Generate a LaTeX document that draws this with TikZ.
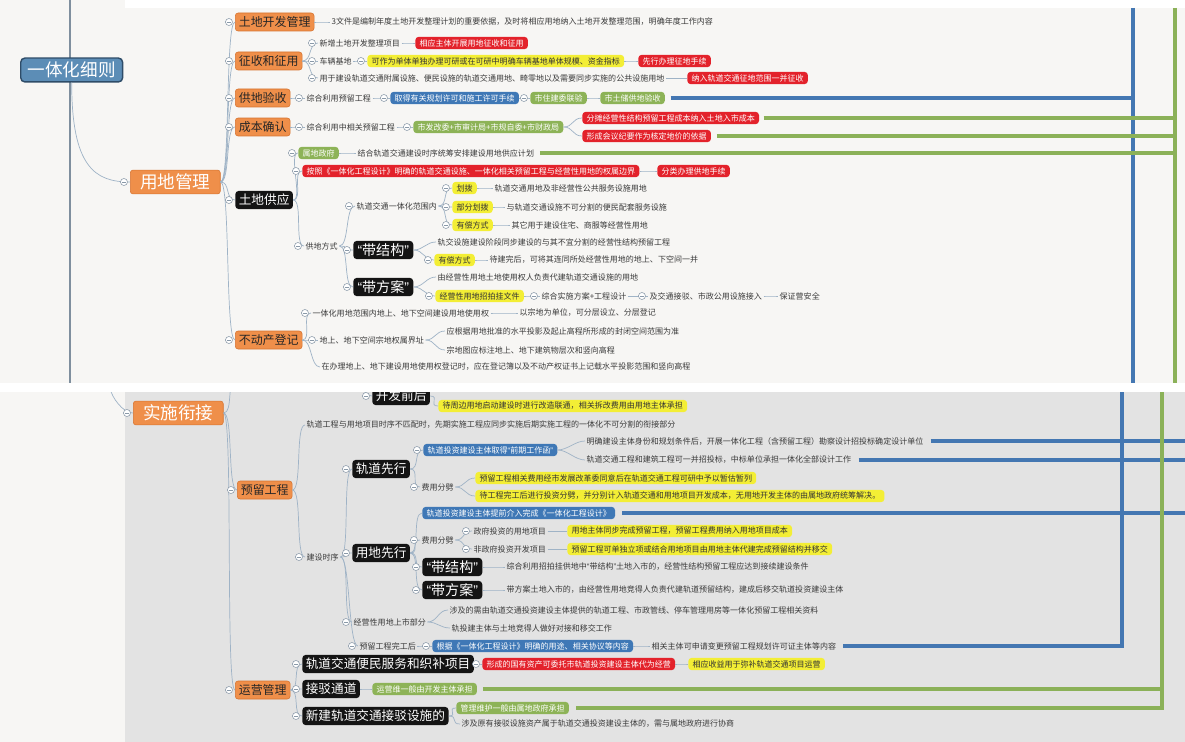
\documentclass[tikz,border=0pt]{standalone}
\usepackage{fontspec}
\setmainfont{Noto Sans CJK SC}
\newfontfamily\qfont{Liberation Sans}
\usetikzlibrary{calc}

\definecolor{panel}{HTML}{F7F6F4}
\definecolor{panelgray}{HTML}{E3E3E3}
\definecolor{topicorange}{HTML}{EF8F4A}
\definecolor{topicedge}{HTML}{D7732F}
\definecolor{rootblue}{HTML}{5C8DB6}
\definecolor{rootedge}{HTML}{2E4C68}
\definecolor{tagred}{HTML}{E3222B}
\definecolor{tagblue}{HTML}{3F78B6}
\definecolor{taggreen}{HTML}{8DB357}
\definecolor{tagyellow}{HTML}{F3EE35}
\definecolor{linkgray}{HTML}{9FB3C6}
\definecolor{foldgray}{HTML}{8A99A8}
\definecolor{relblue}{HTML}{4477B2}
\definecolor{relgreen}{HTML}{8BB158}
\definecolor{textgray}{HTML}{3A3A3A}

\newcommand{\openq}{{\qfont “}}
\newcommand{\closeq}{{\qfont ”}}
\newcommand{\foldmark}[1]{%
  \draw[draw=foldgray, fill=white, line width=0.4pt] ([xshift=-4.3pt]#1.west) circle[radius=2.5pt];
  \draw[draw=foldgray, line width=0.4pt] ([xshift=-5.6pt]#1.west) -- ([xshift=-3pt]#1.west);}

\begin{document}
\begin{tikzpicture}[x=0.025cm, y=-0.025cm,
  every node/.style={anchor=west, font=\fontsize{5.7pt}{6.5pt}\selectfont, text=textgray, inner xsep=1pt, inner ysep=0.8pt},
  rootbox/.style={fill=rootblue, draw=rootedge, line width=1pt, rounded corners=3pt, text=white, font=\fontsize{12.5pt}{14pt}\selectfont, inner xsep=5pt, minimum height=17pt},
  bigtopic/.style={fill=topicorange, draw=topicedge, line width=0.4pt, rounded corners=2pt, text=white, font=\fontsize{12.5pt}{14pt}\selectfont, inner xsep=7pt, minimum height=17pt},
  topic/.style={fill=topicorange, draw=topicedge, line width=0.4pt, rounded corners=2pt, text=black!85, font=\fontsize{8.5pt}{10pt}\selectfont, inner xsep=2.5pt, minimum height=12.8pt},
  blackbox/.style={fill=black!92, rounded corners=2.5pt, text=white, font=\fontsize{9pt}{10pt}\selectfont, inner xsep=2.5pt, minimum height=13pt},
  quotebox/.style={blackbox, font=\fontsize{10pt}{11pt}\selectfont, inner xsep=3pt},
  redtag/.style={fill=tagred, rounded corners=2.5pt, text=white, inner xsep=3pt, minimum height=8.8pt},
  bluetag/.style={redtag, fill=tagblue},
  greentag/.style={redtag, fill=taggreen},
  hl/.style={redtag, fill=tagyellow, text=black!80},
  link/.style={draw=linkgray, line width=0.5pt, out=0, in=180, distance=7pt},
  relb/.style={draw=relblue, line width=2.4pt},
  relg/.style={draw=relgreen, line width=2.4pt}]

  \useasboundingbox (0,0) rectangle (1185,742);

  % backgrounds
  \fill[panel] (0,0) rectangle (1185,383);
  \fill[white] (125,0) rectangle (1185,8);
  \fill[white] (0,383) rectangle (1185,392);
  \fill[panel] (0,392) rectangle (125,742);
  \fill[panelgray] (125,392) rectangle (1185,742);

  % root
  \coordinate (roottop) at (70,0);
  \coordinate (rootbot) at (70,383);
  \draw[draw=linkgray!80!black, line width=0.9pt] (roottop) -- (rootbot);
  \node[rootbox] (root) at (20,70) {一体化细则};

  \node[bigtopic] (land) at (130,182) {用地管理};
  \draw[link, out=-90, out distance=60pt, in distance=25pt] (root.south) to (land.west);

  \node[topic] (landdev) at (235,22) {土地开发管理};
  \node[topic] (levy) at (235,61) {征收和征用};
  \node[topic] (accept) at (235,98) {供地验收};
  \node[topic] (cost) at (235,127) {成本确认};
  \node[blackbox] (supply) at (235,200) {土地供应};
  \node[topic] (estate) at (235,340) {不动产登记};
  \path[link] (land.east) edge (landdev.west) edge (levy.west) edge (accept.west)
    edge (cost.west) edge (supply.west) edge (estate.west);

  % land development
  \node (devnote) at (330,22) {3文件是编制年度土地开发整理计划的重要依据，及时将相应用地纳入土地开发整理范围，明确年度工作内容};
  \path[link] (landdev.east) edge (devnote.west);

  % levy
  \node (newdev) at (318,43) {新增土地开发整理项目};
  \node[redtag] (levyact) at (415,43) {相应主体开展用地征收和征用};
  \node (depot) at (318,61) {车辆基地};
  \node[hl] (depotplan) at (367,61) {可作为单体单独办理可研或在可研中明确车辆基地单体规模、资金指标};
  \node[redtag] (depotlevy) at (638,61) {先行办理征地手续};
  \node (auxland) at (318,78) {用于建设轨道交通附属设施、便民设施的轨道交通用地、畸零地以及需要同步实施的公共设施用地};
  \node[redtag] (auxlevy) at (687,78) {纳入轨道交通征地范围一并征收};
  \path[link] (levy.east) edge (newdev.west) edge (depot.west) edge (auxland.west);
  \path[link] (newdev.east) edge (levyact.west);
  \path[link] (depot.east) edge (depotplan.west);
  \path[link] (depotplan.east) edge (depotlevy.west);
  \path[link] (auxland.east) edge (auxlevy.west);

  % acceptance
  \node (reserve) at (305,98) {综合利用预留工程};
  \node[bluetag] (permit) at (390,98) {取得有关规划许可和施工许可手续};
  \node[greentag] (jointcheck) at (530,98) {市住建委联验};
  \node[greentag] (storecheck) at (600,98) {市土储供地验收};
  \path[link] (accept.east) edge (reserve.west);
  \path[link] (reserve.east) edge (permit.west);
  \path[link] (permit.east) edge (jointcheck.west);
  \path[link] (jointcheck.east) edge (storecheck.west);

  % cost
  \node (relres) at (305,127) {综合利用中相关预留工程};
  \node[greentag] (depts) at (413,127) {市发改委+市审计局+市规自委+市财政局};
  \node[redtag] (sharecost) at (582,118) {分摊经营性结构预留工程成本纳入土地入市成本};
  \node[redtag] (minutes) at (582,136) {形成会议纪要作为核定地价的依据};
  \path[link] (cost.east) edge (relres.west);
  \path[link] (relres.east) edge (depts.west);
  \path[link] (depts.east) edge (sharecost.west) edge (minutes.west);

  % supply
  \node[greentag] (localgov) at (298,153) {属地政府};
  \node (plan) at (356,153) {结合轨道交通建设时序统筹安排建设用地供应计划};
  \node[redtag] (bound) at (302,171) {按照《一体化工程设计》明确的轨道交通设施、一体化相关预留工程与经营性用地的权属边界};
  \node[redtag] (classify) at (657,171) {分类办理供地手续};
  \node (mode) at (304,246) {供地方式};
  \node (inrange) at (355,206) {轨道交通一体化范围内};
  \node[hl] (alloc) at (452,188) {划拨};
  \node (allocnote) at (493,188) {轨道交通用地及非经营性公共服务设施用地};
  \node[hl] (partalloc) at (452,207) {部分划拨};
  \node (partnote) at (505,207) {与轨道交通设施不可分割的便民配套服务设施};
  \node[hl] (paid) at (452,225) {有偿方式};
  \node (paidnote) at (510,225) {其它用于建设住宅、商服等经营性用地};
  \node[quotebox] (withstruct) at (353,250) {\openq 带结构\closeq};
  \node (structnote) at (436,242) {轨交设施建设阶段同步建设的与其不宜分割的经营性结构预留工程};
  \node[hl] (structpaid) at (434,260) {有偿方式};
  \node (structpaidnote) at (488,260) {待建完后，可将其连同所处经营性用地的地上、下空间一并};
  \node[quotebox] (withplan) at (353,287) {\openq 带方案\closeq};
  \node (plannote) at (436,277) {由经营性用地土地使用权人负责代建轨道交通设施的用地};
  \node[hl] (bidfile) at (435,296) {经营性用地招拍挂文件};
  \node (scheme) at (540,296) {综合实施方案+工程设计};
  \node (access) at (648,296) {及交通接驳、市政公用设施接入};
  \node (safe) at (778,296) {保证营安全};
  \path[link] (supply.east) edge (localgov.west) edge (bound.west) edge (mode.west);
  \path[link] (localgov.east) edge (plan.west);
  \path[link] (bound.east) edge (classify.west);
  \path[link] (mode.east) edge (inrange.west) edge (withstruct.west) edge (withplan.west);
  \path[link] (inrange.east) edge (alloc.west) edge (partalloc.west) edge (paid.west);
  \path[link] (alloc.east) edge (allocnote.west);
  \path[link] (partalloc.east) edge (partnote.west);
  \path[link] (paid.east) edge (paidnote.west);
  \path[link] (withstruct.east) edge (structnote.west) edge (structpaid.west);
  \path[link] (structpaid.east) edge (structpaidnote.west);
  \path[link] (withplan.east) edge (plannote.west) edge (bidfile.west);
  \path[link] (bidfile.east) edge (scheme.west);
  \path[link] (scheme.east) edge (access.west);
  \path[link] (access.east) edge (safe.west);

  % estate registration
  \node (layer) at (311,313) {一体化用地范围内地上、地下空间建设用地使用权};
  \node (layernote) at (518,313) {以宗地为单位，可分层设立、分层登记};
  \node (bounds) at (318,340) {地上、地下空间宗地权属界址};
  \node (boundsa) at (445,331) {应根据用地批准的水平投影及起止高程所形成的封闭空间范围为准};
  \node (boundsb) at (445,350) {宗地图应标注地上、地下建筑物层次和竖向高程};
  \node (record) at (320,367) {在办理地上、地下建设用地使用权登记时，应在登记簿以及不动产权证书上记载水平投影范围和竖向高程};
  \path[link] (estate.east) edge (layer.west) edge (bounds.west) edge (record.west);
  \path[link] (layer.east) edge (layernote.west);
  \path[link] (bounds.east) edge (boundsa.west) edge (boundsb.west);

  % relationship lines, top
  \coordinate (bluetop) at (1133,8);
  \coordinate (bluebot) at (1133,383);
  \coordinate (bluehit) at (1133,98);
  \coordinate (greentop) at (1175,8);
  \coordinate (greenbot) at (1175,383);
  \draw[relb] (bluetop) -- (bluebot);
  \draw[relb] ([xshift=4pt]storecheck.east) -- (bluehit);
  \draw[relg] ([xshift=3pt]sharecost.east) -- (sharecost.east -| greentop);
  \draw[relg] ([xshift=4pt]minutes.east) -- (minutes.east -| greentop);
  \draw[relg] ([xshift=3pt]plan.east) -- (plan.east -| greentop);
  \draw[relg] (greentop) -- (greenbot);

  \foreach \n in {land, landdev, levy, accept, cost, supply, estate, newdev, depot, depotplan, auxland,
    reserve, permit, jointcheck, relres, depts, localgov, bound, mode, inrange, alloc, partalloc, paid,
    withstruct, withplan, structpaid, bidfile, scheme, access, layer, bounds}
    {\foldmark{\n}}

  % implementation panel
  \begin{scope}
    \clip (0,392) rectangle (1185,742);
    \coordinate (rootcurve) at (110,388);
    \coordinate (abovetopic) at (236,380);
    \coordinate (abovedev) at (350,378);

    \node[bigtopic] (connect) at (133,413) {实施衔接};
    \draw[link, out=-80] (rootcurve) to (connect.west);

    \node[blackbox] (devafter) at (372,396) {开发前后};
    \node[hl] (rebuild) at (438,406) {待周边用地启动建设时进行改造联通，相关拆改费用由用地主体承担};
    \node[topic] (reserved) at (237,490) {预留工程};
    \node[topic] (operate) at (235,690) {运营管理};
    \path[link] (connect.east) edge (abovetopic) edge (reserved.west) edge (operate.west);
    \path[link] (abovedev) edge (devafter.west);
    \path[link] (devafter.east) edge (rebuild.west);

    % reserved works
    \node (mismatch) at (305,425) {轨道工程与用地项目时序不匹配时，先期实施工程应同步实施后期实施工程的一体化不可分割的衔接部分};
    \node (order) at (305,557) {建设时序};
    \path[link] (reserved.east) edge (mismatch.west) edge (order.west);

    \node[blackbox] (railfirst) at (352,469) {轨道先行};
    \node[bluetag] (prework) at (423,450) {轨道投资建设主体取得\openq 前期工作函\closeq};
    \node (designbid) at (585,441) {明确建设主体身份和规划条件后，开展一体化工程（含预留工程）勘察设计招投标确定设计单位};
    \node (jointbid) at (585,460) {轨道交通工程和建筑工程可一并招投标，中标单位承担一体化全部设计工作};
    \node (costsplita) at (420,487) {费用分劈};
    \node[hl] (estimate) at (475,478) {预留工程相关费用经市发展改革委同意后在轨道交通工程可研中予以暂估暂列};
    \node[hl] (aftersplit) at (475,496) {待工程完工后进行投资分劈，并分别计入轨道交通和用地项目开发成本，无用地开发主体的由属地政府统筹解决。};

    \node[blackbox] (landfirst) at (352,553) {用地先行};
    \node[bluetag] (earlydesign) at (422,513) {轨道投资建设主体提前介入完成《一体化工程设计》};
    \node (costsplitb) at (420,540) {费用分劈};
    \node (govproj) at (472,531) {政府投资的用地项目};
    \node[hl] (govnote) at (567,531) {用地主体同步完成预留工程，预留工程费用纳入用地项目成本};
    \node (privproj) at (472,549) {非政府投资开发项目};
    \node[hl] (privnote) at (567,549) {预留工程可单独立项或结合用地项目由用地主体代建完成预留结构并移交};
    \node[quotebox] (withstructb) at (422,567) {\openq 带结构\closeq};
    \node (structb) at (505,567) {综合利用招拍挂供地中\openq 带结构\closeq 土地入市的，经营性结构预留工程应达到接续建设条件};
    \node[quotebox] (withplanb) at (422,590) {\openq 带方案\closeq};
    \node (planb) at (505,590) {带方案土地入市的，由经营性用地竞得人负责代建轨道预留结构，建成后移交轨道投资建设主体};

    \node (market) at (352,622) {经营性用地上市部分};
    \node (marketa) at (448,610) {涉及的需由轨道交通投资建设主体提供的轨道工程、市政管线、停车管理用房等一体化预留工程相关资料};
    \node (marketb) at (450,628) {轨投建主体与土地竞得人做好对接和移交工作};
    \node (done) at (358,646) {预留工程完工后};
    \node[bluetag] (byuse) at (432,646) {根据《一体化工程设计》明确的用途、相关协议等内容};
    \node (change) at (650,646) {相关主体可申请变更预留工程规划许可证主体等内容};

    \path[link] (order.east) edge (railfirst.west) edge (landfirst.west) edge (market.west) edge (done.west);
    \path[link] (railfirst.east) edge (prework.west) edge (costsplita.west);
    \path[link] (prework.east) edge (designbid.west) edge (jointbid.west);
    \path[link] (costsplita.east) edge (estimate.west) edge (aftersplit.west);
    \path[link] (landfirst.east) edge (earlydesign.west) edge (costsplitb.west)
      edge (withstructb.west) edge (withplanb.west);
    \path[link] (costsplitb.east) edge (govproj.west) edge (privproj.west);
    \path[link] (govproj.east) edge (govnote.west);
    \path[link] (privproj.east) edge (privnote.west);
    \path[link] (withstructb.east) edge (structb.west);
    \path[link] (withplanb.east) edge (planb.west);
    \path[link] (market.east) edge (marketa.west) edge (marketb.west);
    \path[link] (done.east) edge (byuse.west);
    \path[link] (byuse.east) edge (change.west);

    % operation
    \node[blackbox] (service) at (302,664) {轨道交通便民服务和织补项目};
    \node[redtag] (entrust) at (482,664) {形成的国有资产可委托市轨道投资建设主体代为经营};
    \node[hl] (income) at (688,664) {相应收益用于弥补轨道交通项目运营};
    \node[blackbox] (passage) at (302,689) {接驳通道};
    \node[greentag] (passmaint) at (372,689) {运营维一般由开发主体承担};
    \node[blackbox] (newfac) at (302,716) {新建轨道交通接驳设施的};
    \node[greentag] (facmaint) at (456,708) {管理维护一般由属地政府承担};
    \node (facasset) at (460,724) {涉及原有接驳设施资产属于轨道交通投资建设主体的，需与属地政府进行协商};
    \path[link] (operate.east) edge (service.west) edge (passage.west) edge (newfac.west);
    \path[link] (service.east) edge (entrust.west);
    \path[link] (entrust.east) edge (income.west);
    \path[link] (passage.east) edge (passmaint.west);
    \path[link] (newfac.east) edge (facmaint.west) edge (facasset.west);

    % relationship lines, bottom
    \coordinate (blueedge) at (1185,441);
    \coordinate (bluecorner) at (1122,646);
    \coordinate (bluetopb) at (1122,392);
    \coordinate (greencorner) at (1162,708);
    \coordinate (greentopb) at (1162,392);
    \draw[relb] ([xshift=4pt]designbid.east) -- (designbid.east -| blueedge);
    \draw[relb] ([xshift=4pt]jointbid.east) -- (jointbid.east -| blueedge);
    \draw[relb] ([xshift=5pt]earlydesign.east) -- (earlydesign.east -| blueedge);
    \draw[relb] ([xshift=4pt]change.east) -- (bluecorner) -- (bluetopb);
    \draw[relg] ([xshift=4pt]passmaint.east) -- (passmaint.east -| greencorner);
    \draw[relg] ([xshift=5pt]facmaint.east) -- (greencorner) -- (greentopb);

    \foreach \n in {connect, devafter, reserved, order, railfirst, prework, costsplita, landfirst,
      costsplitb, govproj, privproj, withstructb, withplanb, market, done, byuse, operate,
      service, entrust, passage, newfac}
      {\foldmark{\n}}
  \end{scope}
\end{tikzpicture}
\end{document}
